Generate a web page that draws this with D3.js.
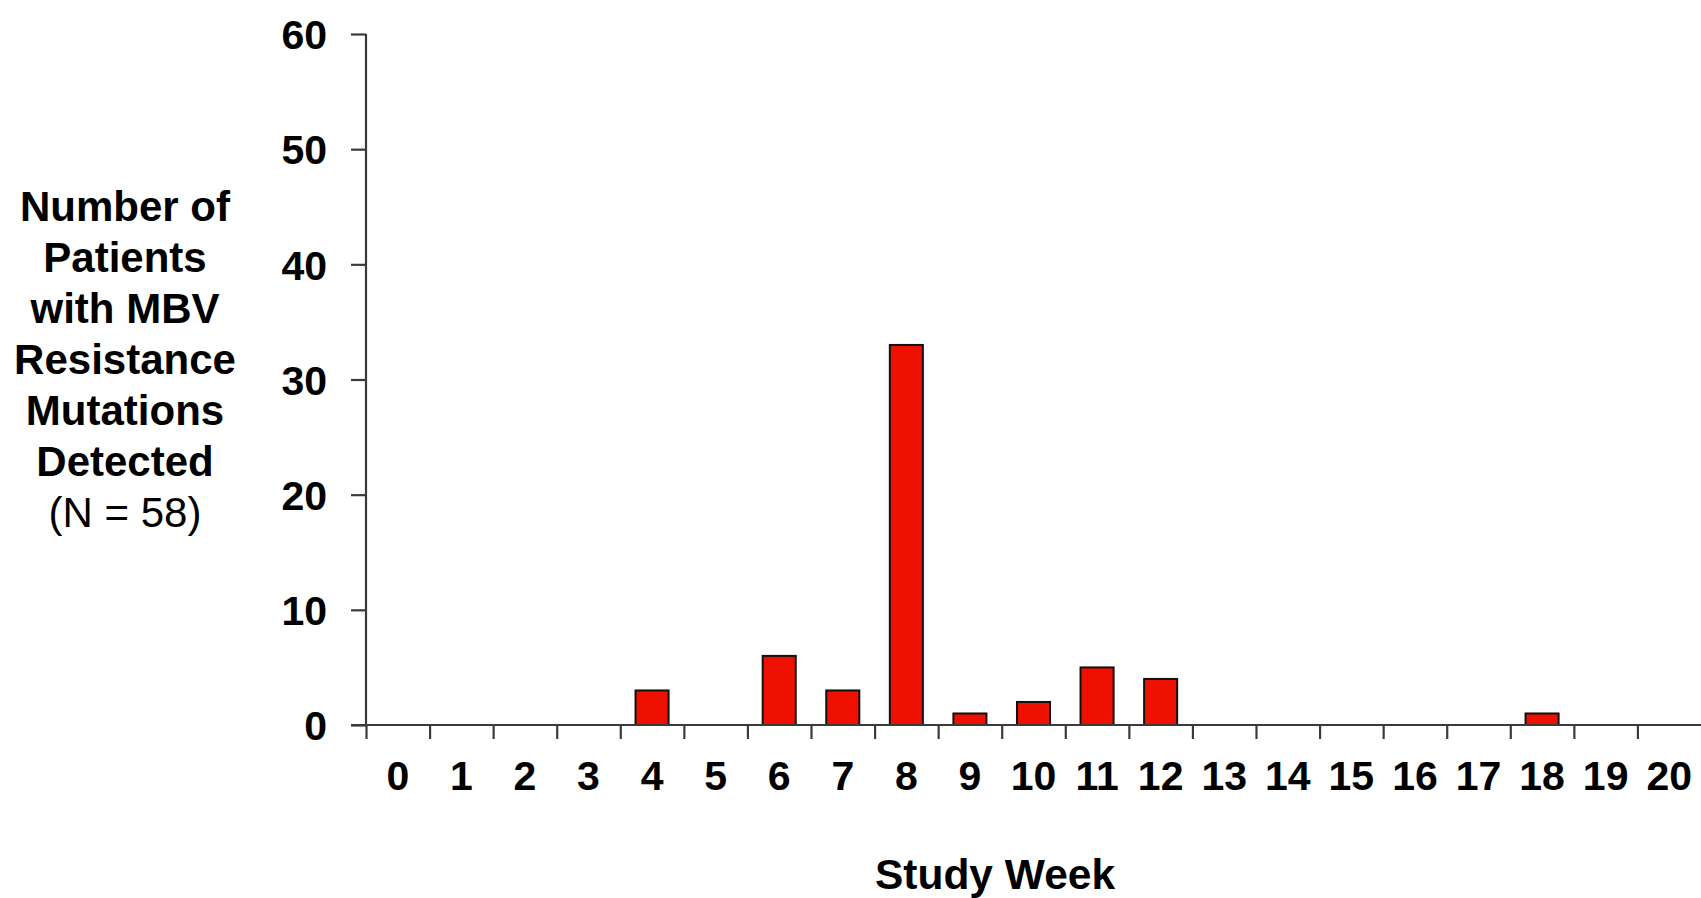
<!DOCTYPE html>
<html>
<head>
<meta charset="utf-8">
<script src="https://cdn.jsdelivr.net/npm/d3@7"></script>
<style>
  body { margin: 0; background: #fff; }
  svg { display: block; font-family: "Liberation Sans", Arial, sans-serif; }
</style>
</head>
<body>
<div id="chart"></div>
<script>
const width = 1701;
const height = 898;

const weeks = d3.range(21);
const patients = [0, 0, 0, 0, 3, 0, 6, 3, 33, 1, 2, 5, 4, 0, 0, 0, 0, 0, 1, 0, 0];
const yTicks = [0, 10, 20, 30, 40, 50, 60];
const yTitle = ["Number of", "Patients", "with MBV", "Resistance", "Mutations", "Detected"];
const yNote = "(N = 58)";
const xTitle = "Study Week";

const plotLeft = 366, plotRight = 1701, plotTop = 34, plotBottom = 725;
const axisColor = "#3a3a3a";

const svg = d3.select("#chart").append("svg")
    .attr("width", width)
    .attr("height", height);

const x = d3.scaleBand().domain(weeks).range([plotLeft, plotRight]).paddingInner(0.48).paddingOuter(0.24);
const xEdge = d3.scaleLinear().domain([0, weeks.length]).range([plotLeft, plotRight]);
const y = d3.scaleLinear().domain([0, 60]).range([plotBottom, plotTop]);

// bars
svg.append("g").selectAll("rect")
    .data(weeks.filter(d => patients[d] > 0))
    .join("rect")
    .attr("x", d => x(d))
    .attr("y", d => y(patients[d]))
    .attr("width", x.bandwidth())
    .attr("height", d => y(0) - y(patients[d]))
    .attr("fill", "#ee1100")
    .attr("stroke", "#111")
    .attr("stroke-width", 2);

// y axis
const yAxis = svg.append("g")
    .attr("transform", `translate(${plotLeft},0)`)
    .call(d3.axisLeft(y).tickValues(yTicks).tickSize(15).tickPadding(24));
yAxis.select(".domain").attr("d", `M0,${plotTop}V${plotBottom}`);

// x axis: ticks at the category edges, labels at the centres
const xTicks = svg.append("g")
    .attr("transform", `translate(0,${plotBottom})`)
    .call(d3.axisBottom(xEdge).tickValues(d3.range(weeks.length)).tickSize(14).tickFormat(""));
xTicks.select(".domain").attr("d", `M${plotLeft - 15},0H${plotRight}`);

const xLabels = svg.append("g")
    .attr("transform", `translate(0,${plotBottom})`)
    .call(d3.axisBottom(x).tickSize(0).tickPadding(36));
xLabels.select(".domain").remove();

svg.selectAll(".domain, .tick line")
    .attr("stroke", axisColor)
    .attr("stroke-width", 2.2);

svg.selectAll(".tick text")
    .attr("fill", "#000")
    .style("font-size", "41px")
    .style("font-weight", "bold")
    .style("font-family", "'Liberation Sans', Arial, sans-serif");
yAxis.selectAll(".tick text").attr("dy", "0.36em");

// titles
const yt = svg.append("text")
    .attr("text-anchor", "middle")
    .style("font-size", "42px")
    .attr("fill", "#000");
yTitle.forEach((line, i) => {
    yt.append("tspan")
        .attr("x", 125)
        .attr("y", 221 + i * 51)
        .style("font-weight", "bold")
        .text(line);
});
yt.append("tspan")
    .attr("x", 125)
    .attr("y", 221 + yTitle.length * 51)
    .text(yNote);

svg.append("text")
    .attr("x", 995)
    .attr("y", 889)
    .attr("text-anchor", "middle")
    .style("font-size", "42.5px")
    .style("font-weight", "bold")
    .attr("fill", "#000")
    .text(xTitle);
</script>
</body>
</html>
